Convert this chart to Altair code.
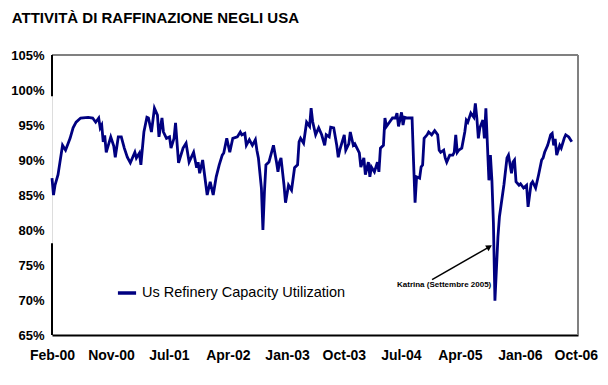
import altair as alt
import pandas as pd
import numpy as np

# week offsets from 2000-02-01 and refinery utilization (%)
WEEKS = [0, 1, 2, 4, 5, 7, 9, 12, 14, 16, 19, 24, 27, 29, 31, 32, 33, 34, 35, 36,
         39, 41, 42, 44, 46, 48, 50, 52, 55, 56, 58, 59, 61, 63, 64, 66, 68, 70, 71, 73,
         74, 76, 78, 79, 81, 82, 84, 87, 89, 91, 94, 96, 97, 98, 100, 103, 105, 107, 109, 111,
         113, 114, 116, 118, 120, 123, 125, 126, 128, 129, 131, 133, 135, 136, 137, 139, 140, 141, 142, 144,
         147, 149, 150, 151, 152, 154, 155, 157, 159, 161, 163, 164, 165, 167, 169, 171, 172, 173, 175, 177,
         179, 181, 182, 184, 185, 187, 189, 190, 191, 194, 195, 197, 198, 200, 201, 204, 205, 207, 208, 210,
         211, 212, 214, 216, 217, 218, 220, 221, 222, 224, 226, 228, 229, 230, 232, 233, 234, 236, 239, 240,
         241, 242, 244, 245, 246, 247, 249, 250, 252, 254, 256, 257, 258, 260, 261, 262, 264, 266, 267, 268,
         269, 270, 272, 274, 275, 276, 278, 280, 281, 282, 283, 284, 286, 287, 288, 290, 291, 292, 293, 294,
         296, 297, 300, 302, 303, 305, 306, 307, 308, 310, 311, 313, 315, 316, 318, 319, 321, 323, 325, 326,
         327, 329, 331, 332, 333, 334, 335, 337, 338, 340, 341, 343, 345]
UTIL = [87.4, 85.0, 86.4, 87.9, 89.3, 92.1, 91.4, 93.1, 94.6, 95.4, 96.0, 96.1, 96.0, 95.4, 96.0, 94.6, 95.0, 92.6, 93.5, 91.1,
        93.3, 92.0, 90.4, 93.3, 93.3, 91.7, 90.4, 89.6, 91.1, 90.3, 91.0, 89.3, 94.0, 96.1, 96.0, 94.0, 97.4, 96.4, 93.3, 96.0,
        94.0, 93.1, 93.3, 91.7, 93.1, 95.3, 89.6, 91.7, 92.4, 89.7, 91.1, 88.9, 89.7, 88.1, 90.0, 85.0, 86.9, 85.0, 87.6, 89.3,
        90.7, 91.0, 93.1, 91.1, 93.1, 93.3, 94.0, 93.6, 93.8, 92.1, 92.9, 92.1, 92.9, 91.4, 90.3, 86.0, 80.0, 85.4, 89.3, 89.7,
        92.1, 89.7, 88.3, 89.7, 90.3, 86.4, 83.9, 86.4, 85.7, 88.9, 89.3, 92.6, 93.1, 92.4, 95.4, 94.8, 97.4, 95.5, 93.6, 94.6,
        93.6, 92.1, 93.6, 93.3, 94.7, 94.6, 92.1, 90.4, 91.4, 93.6, 91.4, 92.3, 94.0, 92.1, 92.3, 91.0, 89.0, 90.3, 87.9, 89.7,
        87.6, 89.0, 88.3, 89.7, 88.3, 91.7, 92.1, 96.0, 94.8, 95.4, 96.0, 96.0, 96.7, 94.8, 96.8, 95.0, 96.1, 96.0, 96.0, 89.7,
        83.9, 87.6, 87.4, 89.0, 89.3, 93.1, 93.6, 94.0, 93.6, 94.2, 93.6, 91.4, 91.1, 91.4, 90.3, 89.7, 90.7, 90.7, 91.1, 93.6,
        91.1, 91.4, 91.7, 94.0, 95.7, 95.4, 96.7, 96.1, 98.1, 96.0, 93.1, 94.6, 95.7, 93.1, 97.4, 87.1, 90.7, 87.1, 81.0, 69.9,
        79.0, 81.9, 86.5, 90.3, 90.7, 88.1, 89.7, 90.0, 86.9, 86.4, 86.6, 86.0, 86.4, 83.3, 86.6, 86.9, 86.0, 87.9, 90.0, 90.3,
        91.1, 92.1, 93.6, 93.8, 92.1, 93.0, 90.7, 92.1, 91.7, 93.1, 93.6, 93.3, 92.6]

SERIES = "Us Refinery Capacity Utilization"
TITLE = "ATTIVITÀ DI RAFFINAZIONE NEGLI USA"
ANNOT = "Katrina (Settembre 2005)"
Y_TICKS = [65, 70, 75, 80, 85, 90, 95, 100, 105]
X_TICKS = [(2000, 2, 1), (2000, 11, 1), (2001, 7, 28), (2002, 4, 28), (2003, 1, 28),
           (2003, 10, 19), (2004, 7, 10), (2005, 4, 10), (2006, 1, 14), (2006, 10, 1)]

start = pd.Timestamp("2000-02-01")
dates = start + pd.to_timedelta(7 * np.array(WEEKS), unit="D")
df = pd.DataFrame({
    "date": [d.strftime("%Y-%m-%dT00:00:00") for d in dates],
    "util": UTIL,
    "series": SERIES,
})

FONT = "Liberation Sans"
W, H = 526, 280

def dt(y, m, d):
    return alt.DateTime(year=y, month=m, date=d)

xscale = alt.Scale(domain=[dt(2000, 2, 1), dt(2006, 10, 11)])
yscale = alt.Scale(domain=[65, 105], nice=False, zero=False)

XAX = alt.Axis(title=None, values=[dt(*t) for t in X_TICKS], format="%b-%y",
               labelFont=FONT, labelFontSize=14, labelFontWeight="bold",
               labelColor="black", labelPadding=13, tickSize=0, grid=False,
               domainColor="black", domainWidth=2, labelFlush=False, labelOverlap=False)
YAX = alt.Axis(title=None, values=Y_TICKS, labelExpr="datum.value + '%'",
               labelFont=FONT, labelFontSize=13, labelFontWeight="bold",
               labelColor="black", labelPadding=8, tickSize=0, grid=False,
               domain=False, labelOverlap=False, labelFlush=False)

line = alt.Chart(df).mark_line(strokeWidth=2.8).encode(
    x=alt.X("date:T", scale=xscale, axis=XAX),
    y=alt.Y("util:Q", scale=yscale, axis=YAX),
    color=alt.Color("series:N", scale=alt.Scale(range=["#000080"]),
                    legend=alt.Legend(title=None, orient="none", legendX=64, legendY=227,
                                      symbolType="stroke", symbolSize=330, symbolStrokeWidth=3.5,
                                      labelFont=FONT, labelFontSize=14.5, labelColor="black",
                                      labelOffset=4, padding=0, labelLimit=400)),
)

one = alt.Data(values=[{}])
GREY = "#808080"

def ydat(v):
    return alt.Y(datum=v, type="quantitative", scale=yscale, axis=YAX)

def xdat(t):
    return alt.X(datum=dt(*t), type="temporal", scale=xscale, axis=XAX)

top = alt.Chart(one).mark_rule(color=GREY, strokeWidth=2).encode(
    x=alt.value(0), x2=alt.value(W), y=alt.value(0))
right = alt.Chart(one).mark_rule(color=GREY, strokeWidth=2).encode(
    x=alt.value(W), y=alt.value(0), y2=alt.value(H))
left1 = alt.Chart(one).mark_rule(color="black", strokeWidth=2).encode(
    x=alt.value(0), y=ydat(105), y2=alt.Y2(datum=99.1))
left2 = alt.Chart(one).mark_rule(color="black", strokeWidth=2).encode(
    x=alt.value(0), y=ydat(78.1), y2=alt.Y2(datum=65))

arrow = alt.Chart(one).mark_rule(color="black", strokeWidth=1.5).encode(
    x=xdat((2004, 12, 2)), x2=alt.X2(datum=dt(2005, 8, 25)),
    y=ydat(72.9), y2=alt.Y2(datum=77.6))
head = alt.Chart(one).mark_point(shape="triangle-up", filled=True, size=45, angle=59,
                                 color="black", opacity=1).encode(
    x=xdat((2005, 8, 25)), y=ydat(77.6))
label = alt.Chart(one).mark_text(text=ANNOT, font=FONT, fontSize=8, fontWeight="bold",
                                 align="center", baseline="middle", color="black").encode(
    x=xdat((2005, 1, 27)), y=ydat(72.1))

chart = alt.layer(line, top, right, left1, left2, arrow, head, label).properties(
    width=W, height=H,
    title=alt.TitleParams(text=TITLE, anchor="start", dx=1, offset=23, font=FONT,
                          fontSize=15, fontWeight="bold", color="black"),
    autosize="none",
    padding={"left": 44, "top": 47, "right": 22, "bottom": 42},
).configure_view(stroke=None).configure_axis(labelOverlap=False).configure(background="white")

chart.save("out.html", embed_options={"renderer": "svg", "actions": False})
